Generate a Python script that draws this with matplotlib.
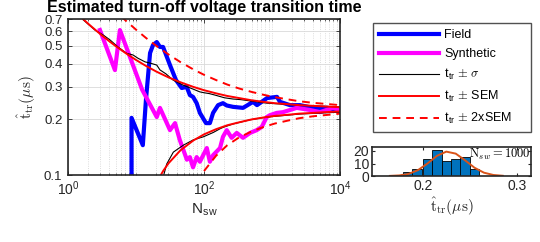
import matplotlib
matplotlib.use('Agg')
from matplotlib import pyplot as plt
from matplotlib.ticker import LogLocator, NullLocator, FixedLocator, NullFormatter

plt.rcParams['font.family'] = 'Liberation Sans'
plt.rcParams['mathtext.fontset'] = 'cm'

# Field (blue) running estimate
field_n = [8.6, 8.6, 12.6, 14, 16.1, 17.8, 20.2, 22.5, 25, 31.6, 38.7, 47, 55.7, 62, 69, 78, 87,
           107, 122, 136, 161, 190, 216, 267, 375, 526, 602, 844, 1185, 1311, 1840, 2582, 4010,
           6440, 10000]
field_t = [0.05, 0.204, 0.145, 0.255, 0.458, 0.506, 0.525, 0.494, 0.494, 0.394, 0.327, 0.296,
           0.30, 0.271, 0.265, 0.245, 0.217, 0.191, 0.191, 0.217, 0.239, 0.245, 0.238, 0.234,
           0.231, 0.249, 0.239, 0.261, 0.265, 0.249, 0.239, 0.239, 0.231, 0.231, 0.222]

# Synthetic (magenta) running estimate
synth_n = [2.95, 4.9, 5.8, 12.3, 20.2, 22.5, 31.6, 37.5, 44, 56, 62, 69, 78, 87, 110, 122, 136,
           172, 190, 216, 255, 303, 375, 475, 596, 706, 836, 935, 1172, 1452, 1840, 2307, 3620,
           5080, 7890, 10000]
synth_t = [0.61, 0.37, 0.61, 0.29, 0.206, 0.231, 0.175, 0.191, 0.155, 0.121, 0.125, 0.110,
           0.125, 0.118, 0.14, 0.118, 0.128, 0.14, 0.161, 0.175, 0.159, 0.169, 0.159, 0.169,
           0.175, 0.182, 0.206, 0.211, 0.217, 0.219, 0.225, 0.231, 0.225, 0.219, 0.231, 0.225]

# t_tr +/- sigma (black)
sig_hi_n = [1.68, 2.49, 3.3, 4.15, 5.43, 7.3, 9.03, 10.7, 13.6, 16.1, 20.2, 22.5, 27.6, 35,
            49.1, 69, 87, 100, 120, 145, 200, 267, 350, 475, 600, 844, 1200, 2582, 5000, 10000]
sig_hi_t = [0.692, 0.61, 0.573, 0.539, 0.494, 0.456, 0.447, 0.429, 0.41, 0.404, 0.394, 0.371,
            0.353, 0.327, 0.307, 0.292, 0.282, 0.279, 0.276, 0.271, 0.262, 0.258, 0.256, 0.252,
            0.249, 0.245, 0.243, 0.239, 0.236, 0.234]
sig_lo_n = [25.2, 28.3, 35.4, 49.6, 69.6, 97.7, 137, 172, 190, 267, 475, 844, 2582, 10000]
sig_lo_t = [0.098, 0.1147, 0.133, 0.145, 0.155, 0.161, 0.170, 0.178, 0.181, 0.189, 0.199,
            0.206, 0.214, 0.219]

# t_tr +/- SEM (red solid)
sem_n = [1.66, 2, 2.5, 3, 4, 5, 7, 10, 14, 20, 30, 45, 70, 100, 150, 220, 330, 500, 750, 1100,
         1700, 2500, 4000, 6000, 10000]
sem_hi = [0.701, 0.658, 0.613, 0.579, 0.532, 0.500, 0.458, 0.420, 0.390, 0.363, 0.338, 0.318,
          0.300, 0.288, 0.277, 0.268, 0.261, 0.254, 0.249, 0.245, 0.242, 0.239, 0.237, 0.235,
          0.233]
sem_lo_n = [20, 25, 30, 45, 70, 100, 150, 220, 330, 500, 750, 1100, 1700, 2500, 4000, 6000,
            10000]
sem_lo = [0.0906, 0.105, 0.1156, 0.136, 0.154, 0.166, 0.177, 0.186, 0.193, 0.200, 0.205, 0.209,
          0.212, 0.215, 0.217, 0.219, 0.221]

# t_tr +/- 2xSEM (red dashed)
sem2_hi_n = [6, 7, 10, 14, 20, 30, 45, 70, 100, 150, 220, 330, 500, 750, 1100, 1700, 2500,
             4000, 6000, 10000]
sem2_hi = [0.725, 0.688, 0.613, 0.553, 0.500, 0.450, 0.409, 0.373, 0.349, 0.327, 0.309, 0.294,
           0.282, 0.272, 0.264, 0.257, 0.251, 0.246, 0.243, 0.239]
sem2_lo_n = [80, 100, 150, 220, 330, 500, 750, 1100, 1700, 2500, 4000, 6000, 10000]
sem2_lo = [0.0906, 0.105, 0.127, 0.145, 0.160, 0.172, 0.182, 0.190, 0.197, 0.203, 0.208, 0.211,
           0.215]

# histogram of estimates at N_sw = 1000
hist_centers = [0.1835, 0.194, 0.205, 0.215, 0.2255, 0.2355, 0.245, 0.255]
hist_counts = [3, 6, 14, 21, 12, 14, 15, 6]
fit_x = [0.165, 0.175, 0.185, 0.195, 0.205, 0.215, 0.225, 0.235, 0.245, 0.255, 0.265, 0.275,
         0.285]
fit_y = [0.1, 0.46, 1.7, 4.75, 10.0, 16.1, 19.5, 17.9, 12.5, 6.6, 2.65, 0.81, 0.19]

frame_col = '#262626'

fig = plt.figure(figsize=(5.4, 2.42), dpi=100)
ax = fig.add_axes([68/540, 1 - 175/242, 272/540, 156/242])

ax.plot(field_n, field_t, color='#0000ff', lw=3, label='Field')
ax.plot(synth_n, synth_t, color='#ff00ff', lw=3, label='Synthetic')
ax.plot(sig_hi_n, sig_hi_t, color='k', lw=0.8, label=r't$_{\mathregular{tr}}$ $\pm$ $\sigma$')
ax.plot(sig_lo_n, sig_lo_t, color='k', lw=0.8)
ax.plot(sem_n, sem_hi, color='#ff0000', lw=1.4, label=r't$_{\mathregular{tr}}$ $\pm$ SEM')
ax.plot(sem_lo_n, sem_lo, color='#ff0000', lw=1.4)
ax.plot(sem2_hi_n, sem2_hi, color='#ff0000', lw=1.4, ls=(0, (4, 3)),
        label=r't$_{\mathregular{tr}}$ $\pm$ 2xSEM')
ax.plot(sem2_lo_n, sem2_lo, color='#ff0000', lw=1.4, ls=(0, (4, 3)))

ax.set_xscale('log')
ax.set_yscale('log')
ax.set_xlim(1, 1e4)
ax.set_ylim(0.1, 0.7)
ax.xaxis.set_major_locator(FixedLocator([1, 100, 10000]))
ax.set_xticklabels([r'$\mathregular{10^0}$', r'$\mathregular{10^2}$', r'$\mathregular{10^4}$'])
ax.xaxis.set_minor_locator(LogLocator(base=10, subs=range(1, 10), numticks=20))
ax.xaxis.set_minor_formatter(NullFormatter())
yt = [0.1, 0.2, 0.3, 0.4, 0.5, 0.6, 0.7]
ax.yaxis.set_major_locator(FixedLocator(yt))
ax.set_yticklabels(['0.1', '0.2', '0.3', '0.4', '0.5', '0.6', '0.7'])
ax.yaxis.set_minor_locator(NullLocator())
ax.tick_params(which='both', direction='in', top=True, right=True, labelsize=10,
               colors=frame_col, labelcolor='#262626')
ax.tick_params(axis='y', labelsize=9.5, pad=4)
ax.tick_params(which='major', length=3, width=0.6)
ax.tick_params(which='minor', length=1.5, width=0.5)
ax.grid(True, which='major', color='#d9d9d9', lw=0.6)
ax.grid(True, which='minor', axis='x', color='#d0d0d0', lw=0.6, ls=':')
for s in ax.spines.values():
    s.set_color(frame_col)
    s.set_linewidth(1.2)

ax.set_title('Estimated turn-off voltage transition time', fontweight='bold', fontsize=11.5,
             pad=5)
ax.set_xlabel(r'N$_{\mathregular{sw}}$', fontsize=11, labelpad=2, color='#262626')
ax.set_ylabel(r'$\hat{\mathrm{t}}_{\mathrm{tr}}(\mu\mathrm{s})$', fontsize=11, labelpad=4,
              color='#262626')

leg = fig.legend(loc='upper left', bbox_to_anchor=(373/540, 1 - 138/242, 158/540, 115/242),
                 mode='expand', borderaxespad=0, fontsize=9, fancybox=False,
                 edgecolor=frame_col, handlelength=4.8, handletextpad=0.4, labelspacing=0.55,
                 borderpad=0.5)
leg.get_frame().set_linewidth(1.0)

ax2 = fig.add_axes([372/540, 1 - 176/242, 159/540, 29/242])
ax2.bar(hist_centers, hist_counts, width=0.0101, color='#0072BD', edgecolor='k', lw=0.6)
ax2.plot(fit_x, fit_y, color='#D95319', lw=1.4)
ax2.set_xlim(0.146, 0.315)
ax2.set_ylim(0, 23.2)
ax2.set_xticks([0.2, 0.3])
ax2.set_xticklabels(['0.2', '0.3'])
ax2.set_yticks([0, 10, 20])
ax2.tick_params(direction='in', top=True, right=True, labelsize=10, length=2,
                colors=frame_col, labelcolor='#262626', pad=2)
for s in ax2.spines.values():
    s.set_color(frame_col)
    s.set_linewidth(1.2)
ax2.text(0.61, 1.0, r'$\mathrm{N}_{sw}\mathrm{=1000}$', transform=ax2.transAxes,
         fontsize=9, va='top', ha='left')
ax2.set_xlabel(r'$\hat{\mathrm{t}}_{\mathrm{tr}}(\mu\mathrm{s})$', fontsize=11, labelpad=2,
               color='#262626')

plt.savefig('out.png', dpi=100)
